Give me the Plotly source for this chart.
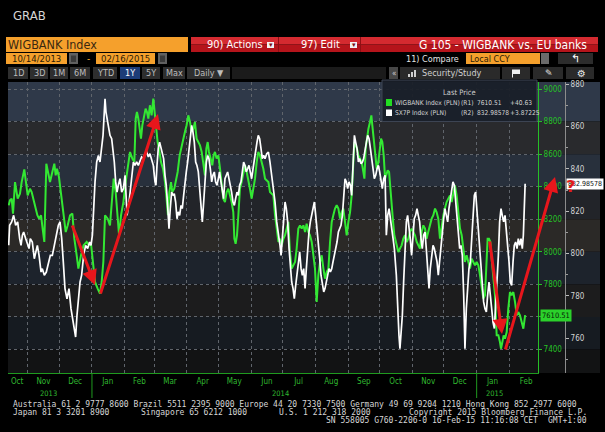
import pandas as pd
import plotly.graph_objects as go

# ---------------- data ----------------
START = pd.Timestamp("2013-10-14")
END_LABEL = "02/16/2015"

# WIGBANK Index (PLN), right axis R1 -- day offsets from START and values
wig_days = [
    0, 1.2, 2.8, 4.1, 6.0, 8.5, 10.7, 12.3, 14.8, 16.1, 18.0, 20.2, 21.8, 23.7, 25.6, 27.2,
    28.8, 30.7, 32.2, 33.8, 35.7, 37.6, 39.2, 41.4, 43.3, 44.6, 45.8, 47.7, 49.6, 51.8, 54.1,
    56.0, 58.2, 60.4, 62.3, 64.5, 66.1, 68.6, 71.1, 74.0, 76.2, 78.1, 79.7, 81.9, 84.4, 86.6,
    88.2, 89.8, 91.4, 93.9, 96.1, 98.3, 99.6, 101.5, 103.4, 104.7, 106.6, 108.8, 111.0, 113.5,
    115.1, 117.3, 119.2, 120.5, 121.7,
    123.0, 124.5, 125.5, 126.8, 128.7, 129.9, 131.2, 132.5, 134.0, 135.6, 137.2, 138.1, 139.4, 141.3, 142.6, 144.5,
    146.4, 148.3, 149.8, 151.1, 152.4, 154.0, 155.2, 157.1, 158.4, 160.3, 162.2, 164.1, 165.7, 167.2, 168.8, 170.4,
    172.0, 173.6, 175.2, 176.7, 178.3, 179.9, 181.5, 183.1, 184.6, 186.2, 187.5, 188.8, 190.0, 191.3, 193.2, 194.4,
    195.7, 197.3, 198.9, 200.5, 202.0, 203.6, 205.2, 206.8, 208.4, 210.0, 211.5, 213.1, 214.1, 215.3, 216.6, 217.9,
    219.4, 221.0, 222.6, 224.2, 225.8, 227.3, 228.9, 230.5, 232.1, 233.7, 235.3, 236.8, 238.4, 240.0, 241.6,
    243.2, 244.8, 246.4, 247.9, 249.5, 251.1, 252.7, 254.3, 255.9, 257.4, 259.0, 260.6, 262.2, 263.8, 265.3, 266.9,
    268.5, 270.1, 271.7, 273.2, 274.8, 276.4, 278.0, 279.6, 281.2, 282.7, 284.3, 285.9, 287.5, 289.1, 290.6, 292.2,
    293.8, 295.4, 297.0, 298.6, 300.1, 301.7, 303.3, 304.9, 306.5, 308.0, 309.6, 311.2, 312.8, 314.4, 315.9, 317.5,
    319.1, 320.7, 322.3, 323.9, 325.4, 327.0, 328.0, 329.2, 330.5, 331.8, 333.3, 334.9, 336.5, 337.5, 338.7, 340.0,
    341.3, 342.8, 344.1, 345.0, 346.3, 347.6, 349.2, 350.7, 352.0, 353.3, 354.5, 355.8, 357.1, 358.3, 359.6, 360.9,
    362.1, 363.4, 364.7, 365.9,
    368.1, 369.7, 371.2, 372.8, 374.4, 376.0, 377.6, 379.2, 380.7, 382.3, 383.9, 385.5, 387.1, 388.6, 390.2, 391.8,
    393.4, 395.0, 396.5, 398.1, 399.7, 401.3, 402.9, 404.5, 406.0, 407.6, 409.2, 410.8, 412.4, 413.9, 415.5, 417.1,
    418.7, 420.3, 421.9, 423.4, 425.0, 426.6, 428.2, 429.8, 431.3, 432.9, 434.5, 436.1, 437.7, 439.3, 440.8, 442.4,
    444.0, 445.6, 447.2, 448.7, 450.3, 451.9, 453.2, 454.4, 455.7, 457.0, 458.2, 459.8, 461.4, 463.0, 464.6, 466.1,
    467.1, 468.4, 469.6, 470.9, 472.5, 474.0, 475.6, 477.2, 478.8, 480.4, 482.0, 483.5, 485.1, 486.7, 488.3, 489.2, 490,
]
wig_vals = [
    8285, 8316, 8326, 8234, 8428, 8326, 8357, 8428, 8506, 8428, 8346, 8387, 8367, 8316, 8265, 8224,
    8203, 8224, 8142, 8060, 8541, 8490, 8428, 8490, 8541, 8469, 8510, 8459, 8367, 8265, 8121,
    8162, 8224, 8234, 8080, 7978, 7896, 7978, 8039, 8060, 8039, 8049, 7937, 7814, 7773, 7742,
    7814, 7937, 8224, 8203, 8162, 8367, 8449, 8367, 8183, 8101, 8224, 8305, 8428, 8551,
    8613, 8572, 8551, 8818, 8859,
    8818, 8736, 8695, 8777, 8838, 8879, 8859, 8818, 8900, 8838, 8941, 8879, 8777, 8674, 8633, 8551,
    8510, 8428, 8326, 8224, 8367, 8428, 8367, 8387, 8428, 8490, 8592, 8654, 8695, 8736, 8777, 8838,
    8797, 8736, 8756, 8797, 8695, 8674, 8654, 8613, 8531, 8469, 8633, 8674, 8613, 8572, 8531, 8592,
    8613, 8572, 8592, 8510, 8428, 8326, 8305, 8367, 8387, 8346, 8305, 8244, 8080, 8049, 8101, 8224,
    8387, 8428, 8490, 8531, 8490, 8449, 8387, 8326, 8387, 8449, 8551, 8613, 8592, 8551, 8510,
    8449, 8439, 8428, 8367, 8357, 8346, 8224, 8142, 8060, 8080, 8039, 8080, 8101, 8142, 8183, 7998,
    7896, 7916, 7937, 8019, 8142, 8162, 8142, 8162, 8121, 8172, 8121, 8101, 8060, 7978, 7896, 7691,
    7855, 7937, 7978, 7896, 7834, 7875, 7896, 8060, 8183, 8224, 8265, 8285, 8265, 8203, 8244, 8265,
    8183, 8101, 8183, 8244, 8346, 8531, 8674, 8654, 8633, 8592, 8572, 8551, 8490, 8449, 8633, 8715,
    8756, 8797, 8838, 8777, 8695, 8572, 8510, 8551, 8633, 8695, 8674, 8592, 8449, 8469, 8500, 8490,
    8408, 8305, 8183, 8101,
    8039, 7998, 8019, 8039, 8080, 8101, 8060, 8080, 8122, 8142, 8122, 8101, 8060, 8039, 8019, 8122,
    8162, 8142, 8080, 8122, 8162, 8203, 8224, 8265, 8244, 8203, 8080, 8162, 8224, 8265, 8305, 8326,
    8346, 8305, 8367, 8408, 8346, 8224, 8142, 8101, 8019, 7937, 7978, 7937, 7896, 7957, 7937, 7916,
    7937, 7916, 7855, 7773, 7711, 7732, 7896, 8080, 8080, 8060, 7957, 7814, 7732, 7486, 7486, 7445,
    7404, 7445, 7486, 7465, 7506, 7650, 7752, 7732, 7752, 7691, 7609, 7629, 7609, 7568, 7527, 7570, 7610.51,
]
wig_change = "+40.63"

# SX7P Index (PLN), right axis R2
sx7p_days = [
    0, 0.9, 2.8, 4.7, 6.6, 8.5, 10.4, 11.7, 13.0, 14.2, 16.1, 18.0, 19.3, 20.5, 22.4, 24.3,
    25.6, 27.2, 28.8, 30.7, 31.9, 33.8, 35.7, 37.6, 39.5, 41.4, 43.3, 45.5, 47.1, 48.7, 50.3, 51.8,
    53.4, 55.3, 57.2, 59.1, 61.0, 62.3, 63.5, 64.8, 66.1, 67.7, 69.2, 71.1, 73.0, 74.9, 76.8, 78.1,
    79.4, 80.6, 81.9, 83.5, 85.1, 86.6, 88.2, 89.5, 90.7, 91.4, 92.3, 93.3, 94.5, 96.1, 97.7, 99.0,
    100.2, 101.5, 102.8, 104.0, 105.6, 107.2, 108.8, 110.4, 112.3, 114.2, 116.1, 118.3,
    119.8, 121.4, 123.0, 124.5, 126.1, 127.7, 129.3, 130.9, 132.5, 134.0, 135.6, 137.2, 138.8, 139.7, 140.7, 141.9,
    143.2, 144.5, 145.7, 147.0, 148.3, 149.5, 150.8, 152.1, 153.3, 154.6, 155.9, 157.1, 158.4, 159.7, 160.9, 162.2,
    163.5, 164.7, 166.0, 167.2, 168.5, 169.8, 171.0, 172.3, 173.6, 174.8, 176.1, 177.4, 178.6, 179.9, 181.2, 182.4,
    183.7, 185.0, 186.2, 187.5, 188.8, 190.0, 191.3, 192.6, 193.8, 195.1, 196.3, 197.6, 198.9, 200.1, 201.4, 202.7,
    203.9, 205.2, 206.5, 207.7, 209.0, 210.3, 211.5, 212.8, 214.1, 215.3, 216.6, 217.9, 219.1, 220.4, 221.6, 222.9,
    224.2, 225.4, 226.7, 228.0, 229.2, 230.5, 231.8, 233.0, 234.3, 235.6, 236.8, 238.1, 239.4, 240.6, 241.9,
    243.2, 244.8, 246.4, 247.9, 249.5, 251.1, 252.7, 254.3, 255.9, 257.4, 258.4, 259.7, 260.9, 262.2, 263.4, 264.7,
    266.0, 267.2, 268.5, 269.8, 271.0, 272.3, 273.6, 274.8, 276.1, 277.4, 278.6, 279.9, 281.2, 282.4, 283.7, 284.9,
    286.2, 287.5, 288.7, 290.0, 291.3, 292.5, 293.8, 295.1, 296.3, 297.6, 298.9, 300.1, 301.4, 302.7, 303.9, 305.2,
    306.5, 307.7, 309.0, 310.3, 311.5, 312.8, 314.1, 315.3, 316.6, 317.8, 319.1, 320.4, 321.6, 322.9, 324.2, 325.4,
    326.7, 328.0, 329.2, 330.5, 331.8, 333.0, 334.3, 335.6, 336.8, 338.1, 339.4, 340.6, 341.9, 343.2, 344.4, 345.7,
    346.9, 348.2, 349.5, 350.7, 352.0, 353.3, 354.5, 355.8, 357.1, 358.3, 359.6, 360.9, 362.1, 363.4, 364.7, 365.9,
    367.8, 369.0, 370.3, 371.2, 372.2, 373.5, 374.7, 376.0, 377.3, 378.5, 379.8, 381.0, 382.3, 383.6, 384.8, 386.1,
    387.4, 388.6, 389.9, 391.2, 392.4, 393.7, 395.0, 396.2, 397.5, 398.8, 400.0, 401.3, 402.6, 403.8, 405.1, 406.4,
    407.6, 408.9, 410.2, 411.4, 412.7, 413.9, 415.2, 416.5, 417.7, 419.0, 420.3, 421.5, 422.8, 424.1, 425.3, 426.6,
    427.9, 429.1, 430.4, 431.7, 432.9, 434.2, 435.5, 436.7, 438.0, 439.3, 440.5, 441.8, 443.0, 444.3, 445.6, 446.8,
    448.1, 449.4, 450.6, 451.9, 453.2, 454.4, 455.7, 457.0, 458.2, 459.5, 460.8, 462.0, 463.3, 464.6, 465.8, 467.1,
    468.3, 469.6, 470.9, 472.1, 473.4, 474.7, 475.9, 477.2, 478.5, 479.7, 481.0, 482.3, 483.5, 484.8, 486.1, 487.3,
    488.3, 489.2, 490,
]
sx7p_vals = [
    804.0, 813.4, 815.0, 818.1, 813.4, 815.0, 807.1, 803.9, 808.7, 810.2, 807.1, 803.9, 802.4, 807.1, 805.5, 797.6,
    800.8, 803.9, 799.2, 791.3, 792.9, 789.8, 791.3, 796.1, 799.2, 799.2, 803.9, 808.7, 813.4, 815.0, 807.1, 796.1,
    783.5, 778.7, 783.5, 774.0, 767.7, 763.0, 760.6, 770.9, 777.2, 786.6, 789.8, 799.2, 803.9, 802.4, 805.5, 803.9,
    808.7, 821.3, 833.9, 843.3, 846.4, 843.3, 851.2, 855.9, 866.9, 873.2, 866.9, 863.8, 862.2, 855.9, 854.3, 849.6,
    843.3, 833.9, 829.1, 832.3, 835.4, 829.1, 830.7, 837.0, 818.1, 824.4, 833.9, 843.3,
    841.7, 843.3, 841.7, 844.1, 845.7, 844.9, 847.2, 848.0, 845.7, 847.2, 844.1, 841.7, 833.9, 832.3, 841.7, 849.6,
    852.7, 849.6, 847.2, 844.9, 837.0, 832.3, 822.8, 811.8, 821.3, 829.1, 827.5, 828.3, 824.4, 816.5, 819.7, 818.1,
    822.8, 821.3, 827.5, 833.9, 838.6, 843.3, 849.6, 855.9, 860.6, 857.5, 852.7, 843.3, 841.7, 838.6, 830.7, 826.0,
    815.0, 824.4, 833.9, 843.3, 846.4, 844.9, 840.1, 833.9, 837.0, 838.6, 833.9, 832.3, 835.4, 838.6, 833.9, 829.1,
    826.0, 835.4, 837.0, 838.6, 835.4, 832.3, 829.1, 824.4, 822.8, 826.0, 829.1, 827.5, 832.3, 833.9, 838.6, 843.3,
    841.7, 838.6, 840.1, 841.7, 838.6, 835.4, 840.1, 844.9, 849.6, 852.7, 855.9, 854.3, 849.6, 844.9, 846.4,
    844.9, 847.2, 848.0, 843.3, 837.0, 832.3, 824.4, 815.0, 810.2, 803.9, 799.2, 808.7, 818.1, 824.4, 821.3, 815.0,
    802.4, 792.9, 786.6, 783.5, 778.7, 785.0, 789.8, 796.1, 800.8, 792.9, 789.8, 792.9, 783.5, 792.9, 802.4, 810.2,
    815.0, 818.1, 821.3, 824.4, 818.1, 810.2, 802.4, 797.6, 789.8, 785.0, 781.9, 783.5, 786.6, 789.8, 792.9, 791.3,
    792.9, 796.1, 799.2, 802.4, 805.5, 810.2, 811.8, 813.4, 818.1, 829.1, 835.4, 833.9, 830.7, 833.9, 832.3, 827.5,
    841.7, 855.9, 852.7, 849.6, 843.3, 844.9, 842.5, 843.3, 844.9, 848.0, 852.7, 855.9, 854.3, 849.6, 843.3, 840.1,
    835.4, 837.0, 840.1, 841.7, 838.6, 833.9, 830.7, 835.4, 837.0, 808.7, 818.1, 821.3, 815.0, 811.8, 807.1, 802.4,
    789.8, 774.0, 761.4, 755.1, 761.4, 770.9, 786.6, 802.4, 815.0, 818.1, 813.4, 807.1, 799.2, 811.8, 816.5, 818.1,
    821.3, 818.1, 815.0, 807.1, 802.4, 808.7, 810.2, 802.4, 792.9, 783.5, 792.9, 799.2, 803.9, 802.4, 799.2, 796.1,
    789.8, 797.6, 802.4, 811.8, 816.5, 821.3, 818.1, 815.0, 821.3, 826.0, 829.1, 833.9, 832.3, 824.4, 815.0, 807.1,
    802.4, 803.9, 799.2, 780.3, 755.1, 774.0, 786.6, 792.9, 796.1, 805.5, 818.1, 827.5, 829.1, 819.7, 811.8, 802.4,
    792.9, 783.5, 777.2, 774.0, 772.4, 780.3, 786.6, 780.3, 774.0, 767.7, 764.6, 774.0, 786.6, 799.2, 815.0, 821.3,
    818.1, 815.0, 818.1, 811.8, 805.5, 796.1, 786.6, 785.0, 796.1, 803.9, 805.5, 802.4, 807.1, 803.9, 807.1, 802.4,
    808.7, 827.5, 832.98578,
]
sx7p_change = "+3.87225"

assert len(wig_days) == len(wig_vals), (len(wig_days), len(wig_vals))
assert len(sx7p_days) == len(sx7p_vals), (len(sx7p_days), len(sx7p_vals))

month_labels = ["Oct", "Nov", "Dec", "Jan", "Feb", "Mar", "Apr", "May", "Jun",
                "Jul", "Aug", "Sep", "Oct", "Nov", "Dec", "Jan", "Feb"]
month_label_dates = ["2013-10-22", "2013-11-16", "2013-12-16", "2014-01-16", "2014-02-15",
                     "2014-03-16", "2014-04-16", "2014-05-16", "2014-06-16", "2014-07-16",
                     "2014-08-16", "2014-09-16", "2014-10-16", "2014-11-16", "2014-12-16",
                     "2015-01-16", "2015-02-17"]
year_labels = ["2013", "2014", "2015"]
year_label_dates = ["2013-11-21", "2014-06-29", "2015-01-18"]
year_breaks = ["2014-01-01", "2015-01-01"]
wig_ticks = [7400, 7600, 7800, 8000, 8200, 8400, 8600, 8800, 9000]
sx7p_ticks = [760, 780, 800, 820, 840, 860, 880]

wig_dates = START + pd.to_timedelta(wig_days, unit="D")
sx7p_dates = START + pd.to_timedelta(sx7p_days, unit="D")
month_starts = pd.date_range("2013-11-01", "2015-02-01", freq="MS")

# ---------------- page geometry helpers ----------------
W, H = 605, 432
ML, MR, MT, MB = 8, 0, 82, 59
PW, PH = W - ML - MR, H - MT - MB


def px(x):
    return (x - ML) / PW


def py(y):
    return (H - MB - y) / PH


UI = "Liberation Sans Narrow, DejaVu Sans Condensed, Arial Narrow, sans-serif"
COND = "DejaVu Sans Condensed, sans-serif"
MONO = "DejaVu Sans Mono, monospace"
GREEN_LINE = "#33e833"
GREEN_AX = "#26c026"
GREEN_TXT = "#30b830"
ORANGE = "#f5a02c"
GRID = "#60656c"

shapes, annos = [], []


def rect(x0, y0, x1, y1, fill, line=None, layer="above"):
    shapes.append(dict(type="rect", xref="paper", yref="paper",
                       x0=px(x0), x1=px(x1), y0=py(y1), y1=py(y0),
                       fillcolor=fill, layer=layer,
                       line=dict(width=0) if line is None else line))


def label(x, y, s, size=9, color="#c8c8c8", anchor="left", family=UI):
    annos.append(dict(xref="paper", yref="paper", x=px(x), y=py(y), text=s,
                      showarrow=False, xanchor=anchor, yanchor="middle",
                      borderpad=0, font=dict(size=size, color=color, family=family)))


# background bands of the chart panel
band_edges = [82, 121.6, 154.2, 186.7, 219.3, 251.8, 284.4, 316.9, 349.5, 373]
band_cols = ["#2f3949", "#292a2d", "#28303c", "#222429", "#2b2927",
             "#1d232c", "#1c1c1d", "#161b21", "#121314"]
for i, c in enumerate(band_cols):
    rect(8, band_edges[i], 600, band_edges[i + 1], c, layer="below")

# ---------------- header ----------------
label(12, 15.5, "GRAB", 13, "#d6d6d6", family=COND)

rect(6, 37, 188, 52, ORANGE)
label(7, 44.8, "WIGBANK Index", 12.5, "#3a2810", family=COND)
rect(191, 37, 598, 44.5, "#d42a30")
rect(191, 44.5, 598, 52, "#b5141b")
rect(278, 37, 279, 52, "#8f0f14")
rect(360, 37, 361, 52, "#8f0f14")
label(206, 44.8, "90) Actions", 11, "#ffffff", family=COND)
rect(267, 42, 274, 48, "#f2f2f2")
label(270.5, 45.3, "▾", 7, "#7a0c10", anchor="center", family="DejaVu Sans, sans-serif")
label(300, 44.8, "97) Edit", 11, "#ffffff", family=COND)
rect(350, 42, 357, 48, "#f2f2f2")
label(353.5, 45.3, "▾", 7, "#7a0c10", anchor="center", family="DejaVu Sans, sans-serif")
label(588, 44.8, "G 105 - WIGBANK vs. EU banks", 12, "#ffffff", anchor="right", family=COND)

# row 2
rect(6, 53, 67, 64, ORANGE)
label(36.5, 58.8, START.strftime("%m/%d/%Y"), 9.5, "#2a1a05", anchor="center")
rect(69, 53, 78, 64, "#606060")
rect(71, 55.5, 76, 62, "#3a3a3a")
label(88, 58.5, "-", 10, ORANGE, anchor="center")
rect(96, 53, 155, 64, ORANGE)
label(125.5, 58.8, END_LABEL, 9.5, "#2a1a05", anchor="center")
rect(158, 53, 167, 64, "#606060")
rect(160, 55.5, 165, 62, "#3a3a3a")
label(460, 58.8, "11) Compare", 9, "#e4e4e4", anchor="right")
rect(466, 53, 540, 64, ORANGE)
label(469, 58.8, "Local CCY", 9, "#2a1a05")
rect(541, 53, 549, 64, "#6a6a6a")
rect(558, 53, 593, 64, "#2c2c2c")
label(575.5, 58.5, "↰", 11, "#ffffff", anchor="center", family="DejaVu Sans, sans-serif")

# row 3 buttons
buttons = [("1D", 8, 28), ("3D", 30, 48), ("1M", 50, 68), ("6M", 70, 90), ("YTD", 93, 117),
           ("1Y", 120, 140), ("5Y", 142, 160), ("Max", 163, 185), ("Daily ▼", 187, 230)]
for name, x0, x1 in buttons:
    sel = name == "1Y"
    rect(x0, 67, x1, 79, "#1d3c78" if sel else "#2e2e2e")
    label((x0 + x1) / 2, 73.2, name, 9, "#ffffff" if sel else "#bdbdbd", anchor="center")
rect(232, 67, 386, 79, "#1b1b1b")
rect(389, 67, 398, 79, "#474747")
label(393.5, 73, "«", 8, "#d0d0d0", anchor="center")
rect(400, 67, 500, 79, "#2a2a2a")
for bx, bh in [(408, 3), (411, 5), (414, 7)]:
    rect(bx, 77 - bh, bx + 2, 77, "#cfcfcf")
label(421, 73.2, "Security/Study", 9, "#d0d0d0")
rect(502, 67, 530, 79, "#2a2a2a")
rect(512, 69.5, 513, 77.5, "#f0f0f0")
rect(513, 69.5, 520, 74, "#f0f0f0")
rect(533, 67, 563, 79, "#2a2a2a")
label(549, 73, "✎", 9, "#e6e6e6", anchor="center", family="DejaVu Sans, sans-serif")
rect(566, 67, 594, 79, "#2a2a2a")
label(581, 73, "⚙", 10, "#e6e6e6", anchor="center", family="DejaVu Sans, sans-serif")

# ---------------- legend box ----------------
rect(382, 80, 537, 121.5, "rgba(26,31,40,0.94)", line=dict(color="#3c4453", width=1))
label(459, 92.5, "Last Price", 7.5, "#cfcfcf", anchor="center")
rect(386, 99, 392, 106, "#22dd22")
rect(386, 109.5, 392, 116, "#ffffff")
LEG = "#d4d4d4"
LS = 6.6
label(394, 102.6, "WIGBANK Index (PLN)", LS, LEG)
label(460, 102.6, "(R1)", LS, LEG)
label(476, 102.6, f"{wig_vals[-1]:.2f}", LS, LEG)
label(509, 102.6, wig_change, LS, LEG)
label(394, 113, "SX7P Index (PLN)", LS, LEG)
label(460, 113, "(R2)", LS, LEG)
label(476, 113, f"{sx7p_vals[-1]:.5f}", LS, LEG)
label(509, 113, sx7p_change, LS, LEG)

# ---------------- last-price tags on the axes ----------------
annos.append(dict(xref="paper", yref="y", x=px(539.5), y=wig_vals[-1], xanchor="left",
                  yanchor="middle", text=f"{wig_vals[-1]:.2f}", showarrow=False,
                  bgcolor="#2bd12b", borderpad=1,
                  font=dict(size=7.5, color="#052005", family=UI)))
annos.append(dict(xref="paper", yref="y2", x=px(566), y=sx7p_vals[-1], xanchor="left",
                  yanchor="middle", text=f"{sx7p_vals[-1]:.5f}", showarrow=False,
                  bgcolor="#ffffff", borderpad=1,
                  font=dict(size=7, color="#111111", family=UI)))
label(570, 186, "<b>?</b>", 16, "#e31b1b", anchor="center", family="DejaVu Sans, sans-serif")

# ---------------- hand-drawn red arrows ----------------
arrows = [(95, 285, 71.7, 224), (158, 114, 100, 295), (502, 334, 489.5, 240), (555, 177, 505, 351)]
for hx, hy, tx, ty in arrows:
    annos.append(dict(xref="paper", yref="paper", x=px(hx), y=py(hy), ax=tx - hx, ay=ty - hy,
                      text="", showarrow=True, arrowhead=2, arrowsize=1, arrowwidth=3,
                      arrowcolor="#e8161c", standoff=0, startstandoff=0))

# ---------------- x axis years ----------------
for t, d in zip(year_labels, year_label_dates):
    annos.append(dict(xref="x", yref="paper", x=d, y=py(393), text=t, showarrow=False,
                      xanchor="center", yanchor="middle",
                      font=dict(size=7.5, color=GREEN_TXT, family=UI)))
for d in year_breaks:
    shapes.append(dict(type="line", xref="x", yref="paper", x0=d, x1=d,
                       y0=py(398), y1=py(373), line=dict(color="#1f9a1f", width=1)))

# ---------------- footer ----------------
FOOT = "#d6d6d6"
FS = 8
label(12, 404, "Australia 61 2 9777 8600 Brazil 5511 2395 9000 Europe 44 20 7330 7500 "
               "Germany 49 69 9204 1210 Hong Kong 852 2977 6000", FS, FOOT, family=MONO)
label(12, 412, "Japan 81 3 3201 8900", FS, FOOT, family=MONO)
label(140, 412, "Singapore 65 6212 1000", FS, FOOT, family=MONO)
label(278, 412, "U.S. 1 212 318 2000", FS, FOOT, family=MONO)
label(588, 412, "Copyright 2015 Bloomberg Finance L.P.", FS, FOOT, anchor="right", family=MONO)
label(539, 420, "SN 558005 G760-2206-0 16-Feb-15 11:16:08 CET", FS, FOOT, anchor="right", family=MONO)
label(588, 420, "GMT+1:00", FS, FOOT, anchor="right", family=MONO)

# ---------------- figure ----------------
fig = go.Figure()
fig.add_trace(go.Scatter(x=wig_dates, y=wig_vals, mode="lines", yaxis="y",
                         name="WIGBANK Index (PLN)", line=dict(color=GREEN_LINE, width=2),
                         hoverinfo="skip"))
fig.add_trace(go.Scatter(x=sx7p_dates, y=sx7p_vals, mode="lines", yaxis="y2",
                         name="SX7P Index (PLN)", line=dict(color="#ffffff", width=1.7),
                         hoverinfo="skip"))

x_lo = START + pd.Timedelta(days=-0.66)
x_hi = START + pd.Timedelta(days=502.2)

# the 7600 label is hidden under the last-price tag in the reference
wig_ticktext = ["" if v == 7600 else str(v) for v in wig_ticks]

fig.update_layout(
    width=W, height=H,
    margin=dict(l=ML, r=MR, t=MT, b=MB, pad=0),
    paper_bgcolor="#000000", plot_bgcolor="rgba(0,0,0,0)",
    showlegend=False, hovermode=False,
    font=dict(family=UI, color="#cccccc"),
    xaxis=dict(domain=[0, px(538)], type="date", range=[x_lo, x_hi], anchor="y",
               tickmode="array", tickvals=month_label_dates, ticktext=month_labels,
               ticks="", tickfont=dict(size=8, color=GREEN_TXT, family=UI),
               showgrid=False, zeroline=False, showline=True, linecolor="#1f9a1f", linewidth=1,
               minor=dict(tickmode="array", tickvals=list(month_starts), showgrid=True,
                          gridcolor=GRID, griddash="dot", gridwidth=1, ticks=""),
               fixedrange=True),
    yaxis=dict(domain=[0, 1], range=[7254.5, 9043], side="right", anchor="x",
               tickmode="array", tickvals=wig_ticks, ticktext=wig_ticktext,
               tickfont=dict(size=8, color=GREEN_AX, family=UI),
               ticks="outside", ticklen=3, tickcolor=GREEN_AX,
               showline=True, linecolor=GREEN_AX, linewidth=1,
               showgrid=True, gridcolor=GRID, griddash="dot", gridwidth=1,
               zeroline=False, fixedrange=True),
    yaxis2=dict(overlaying="y", side="right", anchor="free", position=px(565),
                range=[743.6, 881.1], tickmode="array", tickvals=sx7p_ticks,
                ticktext=[str(v) for v in sx7p_ticks],
                tickfont=dict(size=8, color="#d2d2d2", family=UI),
                ticks="outside", ticklen=3, tickcolor="#bbbbbb",
                showline=True, linecolor="#8c8c8c", linewidth=1,
                showgrid=False, zeroline=False, fixedrange=True,
                minor=dict(tickmode="array", tickvals=[750, 770, 790, 810, 830, 850, 870],
                           ticks="outside", ticklen=2, tickcolor="#9a9a9a")),
    shapes=shapes,
    annotations=annos,
)

fig.write_html("out.html", config={"displayModeBar": False, "staticPlot": True},
               post_script="document.body.style.margin='0px';document.body.style.padding='0px';")
